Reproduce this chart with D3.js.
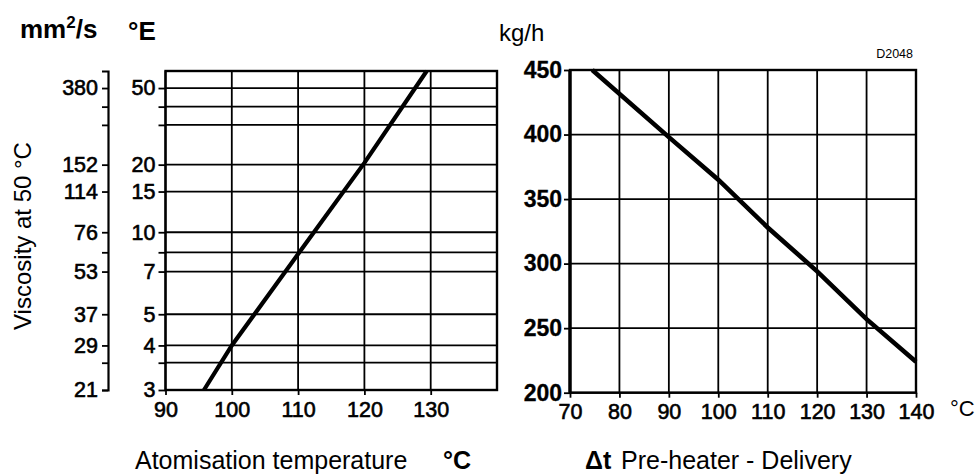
<!DOCTYPE html>
<html>
<head>
<meta charset="utf-8">
<script src="https://cdn.jsdelivr.net/npm/d3@7"></script>
<style>
  body { margin: 0; background: #fff; }
  svg { display: block; font-family: "Liberation Sans", Arial, sans-serif; }
  .tick text { fill: #000; }
</style>
</head>
<body>
<svg id="chart" width="975" height="475"></svg>
<script>
// ---- Viscosity / atomisation temperature ----
// Engler degrees and the matching kinematic viscosity (mm²/s) of each grid line
const englerGrid    = [3, 3.5, 4, 5, 7, 8, 10, 15, 20, 30, 40, 50];
const kinematicGrid = [21, 25.5, 29, 37, 53, 63, 76, 114, 152, 240, 300, 380];
const englerLabels    = [3, 4, 5, 7, 10, 15, 20, 50];
const kinematicLabels = [21, 29, 37, 53, 76, 114, 152, 380];
const viscosityTop = 476;               // mm²/s at the upper frame edge
const atomTicks = [90, 100, 110, 120, 130];
const atomDomain = [90, 140];
// recommended atomisation temperature for a given viscosity
const atomTemp = [95.8, 100, 110, 120, 129.4];
const atomVisc = [21, 29, 62, 155, 476];

// ---- Heater throughput ----
const deltaTicks = [70, 80, 90, 100, 110, 120, 130, 140];
const flowTicks  = [200, 250, 300, 350, 400, 450];
const deltaT  = [74.5, 90, 100, 110, 120, 130, 140];
const flowKgH = [450, 398, 365, 328, 294, 257, 224];

const svg = d3.select("#chart");
const FONT = "\"Liberation Sans\", Arial, sans-serif";

// Walther-type double-log transform used by viscosity/temperature charts
const walther = v => Math.log10(Math.log10(v + 0.7));

// ===== Left chart =====
const L = { left: 165.5, right: 497, top: 71, bottom: 390 };
const xL = d3.scaleLinear().domain(atomDomain).range([L.left, L.right]);
const yL = d3.scaleLinear()
  .domain([walther(21), walther(viscosityTop)])
  .range([L.bottom, L.top]);
const yV = v => yL(walther(v));

const gL = svg.append("g");
// horizontal grid lines (one per Engler grid value)
gL.selectAll("line.h").data(kinematicGrid).join("line")
  .attr("x1", L.left).attr("x2", L.right)
  .attr("y1", d => yV(d)).attr("y2", d => yV(d))
  .attr("stroke", "#000").attr("stroke-width", 1.8);
// vertical grid lines
gL.selectAll("line.v").data(d3.range(atomDomain[0], atomDomain[1] + 1, 10)).join("line")
  .attr("x1", d => xL(d)).attr("x2", d => xL(d))
  .attr("y1", L.top).attr("y2", L.bottom)
  .attr("stroke", "#000").attr("stroke-width", 1.8);
// frame
gL.append("rect")
  .attr("x", L.left).attr("y", L.top)
  .attr("width", L.right - L.left).attr("height", L.bottom - L.top)
  .attr("fill", "none").attr("stroke", "#000").attr("stroke-width", 2.4);

// °E axis on the frame
const engAxis = d3.axisLeft(yL)
  .tickValues(kinematicGrid.map(walther))
  .tickFormat((d, i) => englerLabels.includes(englerGrid[i]) ? englerGrid[i] : "")
  .tickSize(7).tickSizeOuter(0).tickPadding(3);
const gEng = svg.append("g").attr("transform", `translate(${L.left},0)`).call(engAxis);
gEng.select(".domain").remove();

// mm²/s axis further left
const kinAxis = d3.axisLeft(yL)
  .tickValues(kinematicGrid.map(walther))
  .tickFormat((d, i) => kinematicLabels.includes(kinematicGrid[i]) ? kinematicGrid[i] : "")
  .tickSize(6).tickSizeOuter(6).tickPadding(4);
svg.append("g").attr("transform", "translate(108,0)").call(kinAxis);

// atomisation temperature axis
const atomAxis = d3.axisBottom(xL).tickValues(atomTicks).tickSize(5).tickSizeOuter(0).tickPadding(7);
const gAtom = svg.append("g").attr("transform", `translate(0,${L.bottom})`).call(atomAxis);
gAtom.select(".domain").remove();

// viscosity curve
gL.append("path")
  .datum(d3.zip(atomTemp, atomVisc))
  .attr("fill", "none").attr("stroke", "#000").attr("stroke-width", 4.2)
  .attr("stroke-linecap", "butt")
  .attr("d", d3.line().x(d => xL(d[0])).y(d => yV(d[1])));

// ===== Right chart =====
const R = { left: 570, right: 916, top: 70, bottom: 392.7 };
const xR = d3.scaleLinear().domain([70, 140]).range([R.left, R.right]);
const yR = d3.scaleLinear().domain([200, 450]).range([R.bottom, R.top]);

const gR = svg.append("g");
gR.selectAll("line.h").data(flowTicks).join("line")
  .attr("x1", R.left).attr("x2", R.right)
  .attr("y1", d => yR(d)).attr("y2", d => yR(d))
  .attr("stroke", "#000").attr("stroke-width", 1.8);
gR.selectAll("line.v").data(deltaTicks).join("line")
  .attr("x1", d => xR(d)).attr("x2", d => xR(d))
  .attr("y1", R.top).attr("y2", R.bottom)
  .attr("stroke", "#000").attr("stroke-width", 1.8);
gR.append("rect")
  .attr("x", R.left).attr("y", R.top)
  .attr("width", R.right - R.left).attr("height", R.bottom - R.top)
  .attr("fill", "none").attr("stroke", "#000").attr("stroke-width", 2.4);
gR.append("line")
  .attr("x1", R.left).attr("x2", R.left).attr("y1", R.top).attr("y2", R.bottom)
  .attr("stroke", "#000").attr("stroke-width", 3.4);

const flowAxis = d3.axisLeft(yR).tickValues(flowTicks).tickSize(6).tickSizeOuter(0).tickPadding(2);
const gFlow = svg.append("g").attr("transform", `translate(${R.left},0)`).call(flowAxis);
gFlow.select(".domain").remove();

const dtAxis = d3.axisBottom(xR).tickValues(deltaTicks).tickSize(5).tickSizeOuter(0).tickPadding(6);
const gDt = svg.append("g").attr("transform", `translate(0,${R.bottom})`).call(dtAxis);
gDt.select(".domain").remove();

gR.append("path")
  .datum(d3.zip(deltaT, flowKgH))
  .attr("fill", "none").attr("stroke", "#000").attr("stroke-width", 4.6)
  .attr("d", d3.line().x(d => xR(d[0])).y(d => yR(d[1])));

// tick styling shared by all axes
svg.selectAll(".tick line").attr("stroke", "#000").attr("stroke-width", 1.8);
svg.selectAll(".domain").attr("stroke", "#000").attr("stroke-width", 2.2);
svg.selectAll(".tick text")
  .attr("font-family", FONT).attr("font-size", 21.5)
  .attr("stroke", "#000").attr("stroke-width", 0.6);
// throughput labels are printed heavier
gFlow.selectAll(".tick text").attr("font-size", 23).attr("font-weight", "bold").attr("stroke-width", 0.3);

// ===== Titles and units =====
const txt = (x, y, s, size, weight, anchor) => svg.append("text")
  .attr("x", x).attr("y", y).attr("font-family", FONT)
  .attr("font-size", size).attr("font-weight", weight || "normal")
  .attr("text-anchor", anchor || "start").attr("fill", "#000").text(s);

const unitV = txt(20, 38, "mm", 26, "bold");
unitV.append("tspan").attr("dy", -10).attr("font-size", 17).text("2");
unitV.append("tspan").attr("dy", 10).text("/s");
txt(128, 40, "°E", 26, "bold");
txt(499, 41, "kg/h", 24);
txt(913, 58, "D2048", 12.5, "normal", "end");
txt(950, 416, "°C", 22);

svg.append("text")
  .attr("transform", "translate(31,236) rotate(-90)")
  .attr("text-anchor", "middle").attr("font-family", FONT)
  .attr("font-size", 24).attr("fill", "#000")
  .text("Viscosity at 50 °C");

txt(135, 469, "Atomisation temperature", 25);
txt(443, 469, "°C", 25, "bold");
txt(585, 469, "Δt", 25, "bold");
txt(621, 469, "Pre-heater - Delivery", 25);
</script>
</body>
</html>
